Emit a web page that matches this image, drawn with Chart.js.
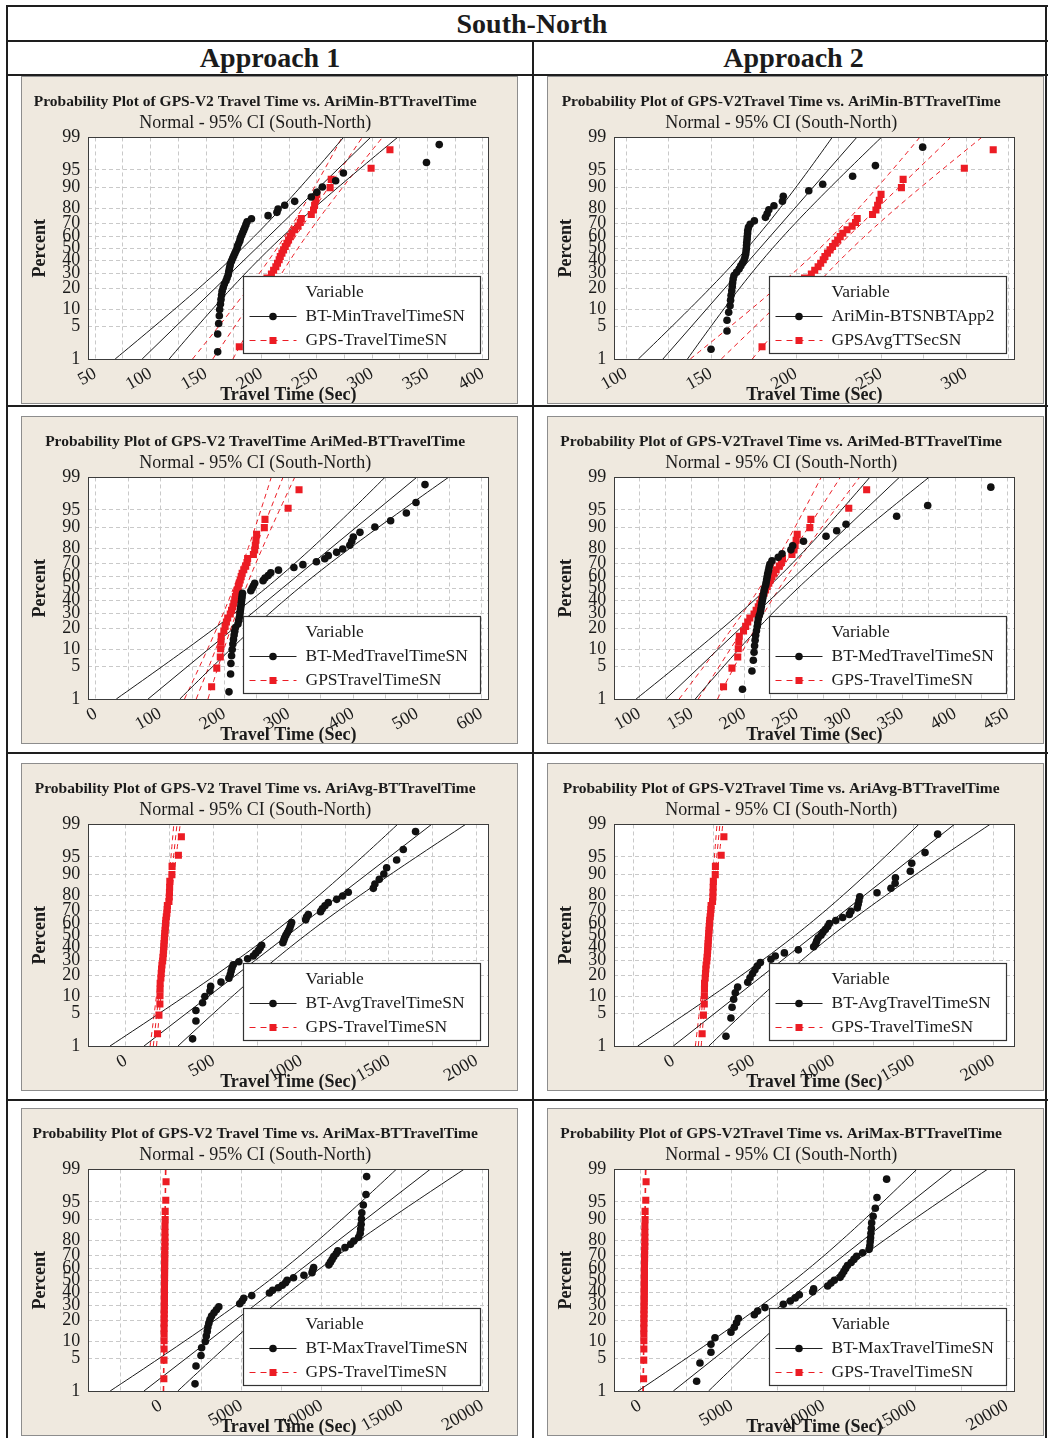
<!DOCTYPE html>
<html>
<head>
<meta charset="utf-8">
<script src="https://cdn.jsdelivr.net/npm/chart.js@4.4.0/dist/chart.umd.min.js"></script>
<style>
html, body { margin: 0; padding: 0; background: #fff; }
#page { position: relative; width: 1048px; height: 1438px; overflow: hidden;
        font-family: "Liberation Serif", "Times New Roman", serif; color: #1b1b1b; }
.ln { position: absolute; background: #1e1e1e; }
.hd { position: absolute; font-weight: bold; font-size: 28px; text-align: center; }
.panel { position: absolute; width: 495px; height: 326px; border: 1px solid #8d8d8d; background: #efe9df; }
.panel canvas { display: block; }
</style>
</head>
<body>
<div id="page">
  <div class="ln" style="left:6px;top:5px;width:1042px;height:2px"></div>
  <div class="ln" style="left:6px;top:5px;width:2px;height:1433px"></div>
  <div class="ln" style="left:1045px;top:5px;width:2px;height:1433px"></div>
  <div class="ln" style="left:6px;top:40px;width:1042px;height:2px"></div>
  <div class="ln" style="left:6px;top:74px;width:1042px;height:2px"></div>
  <div class="ln" style="left:532px;top:41px;width:2px;height:1397px"></div>
  <div class="ln" style="left:6px;top:405px;width:1042px;height:2px"></div>
  <div class="ln" style="left:6px;top:752px;width:1042px;height:2px"></div>
  <div class="ln" style="left:6px;top:1099px;width:1042px;height:2px"></div>

  <div class="hd" style="left:16px;top:7px;width:1032px;line-height:33px">South-North</div>
  <div class="hd" style="left:8px;top:42px;width:524px;line-height:32px">Approach 1</div>
  <div class="hd" style="left:538px;top:42px;width:511px;line-height:32px">Approach 2</div>

  <div class="panel" style="left:21px;top:76px"><canvas id="c0" width="495" height="326"></canvas></div>
  <div class="panel" style="left:547px;top:76px"><canvas id="c1" width="495" height="326"></canvas></div>
  <div class="panel" style="left:21px;top:416px"><canvas id="c2" width="495" height="326"></canvas></div>
  <div class="panel" style="left:547px;top:416px"><canvas id="c3" width="495" height="326"></canvas></div>
  <div class="panel" style="left:21px;top:763px"><canvas id="c4" width="495" height="326"></canvas></div>
  <div class="panel" style="left:547px;top:763px"><canvas id="c5" width="495" height="326"></canvas></div>
  <div class="panel" style="left:21px;top:1108px"><canvas id="c6" width="495" height="326"></canvas></div>
  <div class="panel" style="left:547px;top:1108px"><canvas id="c7" width="495" height="326"></canvas></div>
</div>

<script>
// ---- data ----
const yTickPercents = [1, 5, 10, 20, 30, 40, 50, 60, 70, 80, 90, 95, 99];

// GPS travel time (same 36 runs in every panel)
const gpsTravelTime = [180, 188, 193.5, 194, 194.5, 195, 199, 201, 203, 205, 209, 211, 213, 214.5, 216, 217,
  218.5, 220, 221.5, 223, 224.5, 226, 227.5, 230, 233, 235, 236, 245, 247, 248, 249, 250, 262, 263, 299, 316];

const btMinApp1 = [160.5, 160.5, 161.4, 162, 162.3, 163, 163.5, 164, 164.5, 165.5, 166.5, 168, 169, 170, 170.5,
  171, 171.5, 172, 173, 174, 175, 176, 177, 178, 178.5, 179.5, 180.5, 181, 182, 183, 184, 185, 186, 187, 191,
  206, 214, 215, 221, 230, 245, 250, 255, 267, 274, 349, 360.5];
const btMinApp2 = [150, 159.4, 159.4, 160.4, 161.2, 161.5, 161.8, 162.2, 162.5, 162.7, 163, 163.5, 165, 166.5,
  167.5, 168.6, 169.5, 170, 170.4, 170.6, 170.8, 170.9, 171, 171.2, 171.3, 171.5, 171.6, 172, 173, 175.5, 182,
  183, 184, 187, 192, 192.5, 207.5, 215.7, 233.3, 246.7, 274.5];
const btMedApp1 = [207, 209.5, 210, 211, 212, 213, 214, 215, 216, 217, 221, 222, 223, 224, 224.5, 225, 225.5,
  226, 226.5, 227, 227.5, 228, 241, 243, 245, 247, 260, 263, 268, 272, 284, 308, 322, 343, 356, 361.5, 374.5,
  384, 395, 398, 400.4, 410.8, 434, 458.5, 483, 498, 512];
const btMedApp2 = [198, 207, 208.3, 209, 209.5, 210, 210.5, 211.3, 212, 212.5, 213, 214, 215, 215.5, 216, 216.5,
  217, 217.5, 218, 218.5, 219, 220, 220.5, 221, 221.5, 222, 222.7, 223.3, 224, 226, 232, 235.6, 244, 245.7, 256,
  277.4, 287.5, 296.4, 344.5, 374, 434];
const btAvgApp1 = [380, 399, 399, 437, 450, 479, 483, 542, 587, 595, 600, 605, 612, 644, 694, 726, 740, 755, 765,
  774, 895, 900, 905, 912, 920, 928, 935, 940, 945, 1025, 1030, 1040, 1110, 1120, 1135, 1154, 1202, 1236, 1268,
  1411, 1420, 1445, 1471, 1487, 1544, 1582, 1652];
const btAvgApp2 = [329, 360, 367, 377, 387, 402, 465, 479, 495, 510, 525, 544, 610, 637, 694, 781, 877, 890, 896,
  905, 923, 935, 950, 965, 975, 1015, 1058, 1100, 1110, 1150, 1155, 1160, 1165, 1273, 1360, 1386, 1388, 1481,
  1490, 1573, 1652];
const btMaxApp1 = [2120, 2180, 2490, 2530, 2760, 2820, 2880, 2920, 2980, 3050, 3150, 3300, 3450, 3600, 4900, 5050,
  5150, 5650, 6750, 6950, 7300, 7550, 7750, 7850, 8250, 8900, 9400, 9450, 9500, 10450, 10550, 10650, 10750, 10900,
  11000, 11450, 11800, 12000, 12300, 12400, 12430, 12460, 12480, 12500, 12593, 12760, 12800];
const btMaxApp2 = [3073, 3254, 3854, 3854, 4073, 4945, 5127, 5250, 5345, 6218, 6400, 6800, 7800, 8182, 8450, 8673,
  9400, 9454, 10220, 10400, 10580, 10900, 11000, 11100, 11200, 11300, 11500, 11650, 11800, 12127, 12480, 12520,
  12540, 12560, 12580, 12600, 12620, 12700, 12818, 12909, 13436];

const btSeries = [btMinApp1, btMinApp2, btMedApp1, btMedApp2, btAvgApp1, btAvgApp2, btMaxApp1, btMaxApp2];

const panelTitles = [
  'Probability Plot of GPS-V2 Travel Time vs. AriMin-BTTravelTime',
  'Probability Plot of GPS-V2Travel Time vs. AriMin-BTTravelTime',
  'Probability Plot of GPS-V2 TravelTime AriMed-BTTravelTime',
  'Probability Plot of GPS-V2Travel Time vs. AriMed-BTTravelTime',
  'Probability Plot of GPS-V2 Travel Time vs. AriAvg-BTTravelTime',
  'Probability Plot of GPS-V2Travel Time vs. AriAvg-BTTravelTime',
  'Probability Plot of GPS-V2 Travel Time vs. AriMax-BTTravelTime',
  'Probability Plot of GPS-V2Travel Time vs. AriMax-BTTravelTime'
];
const subtitle = 'Normal - 95% CI (South-North)';
const btLabels = ['BT-MinTravelTimeSN', 'AriMin-BTSNBTApp2', 'BT-MedTravelTimeSN', 'BT-MedTravelTimeSN',
  'BT-AvgTravelTimeSN', 'BT-AvgTravelTimeSN', 'BT-MaxTravelTimeSN', 'BT-MaxTravelTimeSN'];
const gpsLabels = ['GPS-TravelTimeSN', 'GPSAvgTTSecSN', 'GPSTravelTimeSN', 'GPS-TravelTimeSN',
  'GPS-TravelTimeSN', 'GPS-TravelTimeSN', 'GPS-TravelTimeSN', 'GPS-TravelTimeSN'];

// fitted normal lines (mean, sd)
const btFitMean = [195.4, 178.7, 290, 236, 923, 878, 7843, 9400];
const btFitSd = [44.3, 24.5, 89.8, 47.7, 352.5, 377.5, 3826, 3267];
const gpsFitMean = 223.5;
const gpsFitSd = 29;

const xTickLabels = [
  [50, 100, 150, 200, 250, 300, 350, 400],
  [100, 150, 200, 250, 300],
  [0, 100, 200, 300, 400, 500, 600],
  [100, 150, 200, 250, 300, 350, 400, 450],
  [0, 500, 1000, 1500, 2000],
  [0, 500, 1000, 1500, 2000],
  [0, 5000, 10000, 15000, 20000],
  [0, 5000, 10000, 15000, 20000]
];
const xMin = [43.7, 93.1, -11.9, 76.2, -215, -369, -4523, -1418];
const xMax = [404.8, 328.4, 610.5, 456.3, 2067, 2131, 20373, 20400];

// ---- helpers ----
const FONT = '"Liberation Serif", "Times New Roman", serif';
const RED = '#ec1c24';
const INK = '#1b1b1b';

function probit(p) {
  const a = [-3.969683028665376e+01, 2.209460984245205e+02, -2.759285104469687e+02, 1.383577518672690e+02, -3.066479806614716e+01, 2.506628277459239e+00];
  const b = [-5.447609879822406e+01, 1.615858368580409e+02, -1.556989798598866e+02, 6.680131188771972e+01, -1.328068155288572e+01];
  const c = [-7.784894002430293e-03, -3.223964580411365e-01, -2.400758277161838e+00, -2.549732539343734e+00, 4.374664141464968e+00, 2.938163982698783e+00];
  const d = [7.784695709041462e-03, 3.224671290700398e-01, 2.445134137142996e+00, 3.754408661907416e+00];
  const pl = 0.02425;
  let q, r;
  if (p < pl) {
    q = Math.sqrt(-2 * Math.log(p));
    return (((((c[0]*q+c[1])*q+c[2])*q+c[3])*q+c[4])*q+c[5]) / ((((d[0]*q+d[1])*q+d[2])*q+d[3])*q+1);
  }
  if (p <= 1 - pl) {
    q = p - 0.5; r = q * q;
    return (((((a[0]*r+a[1])*r+a[2])*r+a[3])*r+a[4])*r+a[5])*q / (((((b[0]*r+b[1])*r+b[2])*r+b[3])*r+b[4])*r+1);
  }
  q = Math.sqrt(-2 * Math.log(1 - p));
  return -(((((c[0]*q+c[1])*q+c[2])*q+c[3])*q+c[4])*q+c[5]) / ((((d[0]*q+d[1])*q+d[2])*q+d[3])*q+1);
}
const Z99 = probit(0.99);

// median-rank plotting positions, like Minitab
function probPoints(values) {
  const s = values.slice().sort((a, b) => a - b);
  const n = s.length;
  return s.map((v, i) => ({ x: v, y: probit((i + 0.7) / (n + 0.4)) }));
}
function fitLine(mean, sd) {
  return [{ x: mean - Z99 * sd, y: -Z99 }, { x: mean + Z99 * sd, y: Z99 }];
}
function ciCurve(mean, sd, n, sign) {
  const pts = [];
  for (let k = 0; k <= 60; k++) {
    const z = -Z99 + 2 * Z99 * k / 60;
    const se = sd * Math.sqrt(1 / n + z * z / (2 * n));
    pts.push({ x: mean + z * sd + sign * 1.96 * se, y: z });
  }
  return pts;
}
function gridValues(labels, min, max) {
  const half = (labels[1] - labels[0]) / 2;
  const out = [];
  let v = labels[0];
  while (v - half >= min) v -= half;
  for (; v <= max; v += half) out.push(v);
  return out;
}

const panelDeco = {
  id: 'panelDeco',
  beforeDraw(chart) {
    const { ctx, chartArea: a } = chart;
    ctx.save();
    ctx.fillStyle = '#fff';
    ctx.fillRect(a.left, a.top, a.width, a.height);
    ctx.restore();
  },
  afterDatasetsDraw(chart) {
    const { ctx, chartArea: a } = chart;
    ctx.save();
    ctx.strokeStyle = '#3c3c3c';
    ctx.lineWidth = 1;
    ctx.strokeRect(Math.round(a.left) + 0.5, Math.round(a.top) + 0.5, Math.round(a.width), Math.round(a.height));
    ctx.restore();
  },
  afterDraw(chart, args, opts) {
    const { ctx, chartArea: a } = chart;
    const w = 237, h = 77;
    const x0 = Math.round(a.right - 8 - w) + 0.5;
    const y0 = Math.round(a.bottom - 6 - h) + 0.5;
    ctx.save();
    ctx.fillStyle = '#fff';
    ctx.fillRect(x0, y0, w, h);
    ctx.strokeStyle = '#333';
    ctx.lineWidth = 1.2;
    ctx.strokeRect(x0, y0, w, h);

    ctx.font = '17.5px ' + FONT;
    ctx.fillStyle = INK;
    ctx.textAlign = 'left';
    ctx.textBaseline = 'middle';
    ctx.fillText('Variable', x0 + 62, y0 + 16);

    // black entry
    let yy = Math.round(y0 + 39) + 0.5;
    ctx.strokeStyle = '#222';
    ctx.lineWidth = 1;
    ctx.beginPath(); ctx.moveTo(x0 + 6, yy); ctx.lineTo(x0 + 53, yy); ctx.stroke();
    ctx.fillStyle = '#111';
    ctx.beginPath(); ctx.arc(x0 + 29.5, yy, 3.8, 0, Math.PI * 2); ctx.fill();
    ctx.fillStyle = INK;
    ctx.fillText(opts.bt, x0 + 62, yy);

    // red entry
    yy = Math.round(y0 + 63) + 0.5;
    ctx.strokeStyle = RED;
    ctx.setLineDash([6, 5]);
    ctx.beginPath(); ctx.moveTo(x0 + 6, yy); ctx.lineTo(x0 + 53, yy); ctx.stroke();
    ctx.setLineDash([]);
    ctx.fillStyle = RED;
    ctx.fillRect(x0 + 26, yy - 3.5, 7, 7);
    ctx.fillStyle = INK;
    ctx.fillText(opts.gps, x0 + 62, yy);
    ctx.restore();
  }
};

Chart.defaults.font.family = FONT;
Chart.defaults.color = INK;

function makePanel(k) {
  const bt = btSeries[k];
  const nBt = bt.length, nGps = gpsTravelTime.length;
  const labels = xTickLabels[k];
  const grid = gridValues(labels, xMin[k], xMax[k]);
  const m1 = btFitMean[k], s1 = btFitSd[k];
  const line = (data, color, dash) => ({
    data, showLine: true, pointRadius: 0, borderColor: color, borderWidth: 1,
    borderDash: dash, fill: false, tension: 0, clip: 0
  });

  new Chart(document.getElementById('c' + k), {
    type: 'scatter',
    data: {
      datasets: [
        { label: btLabels[k], data: probPoints(bt), pointStyle: 'circle', pointRadius: 3.8,
          backgroundColor: '#111', borderWidth: 0, clip: 0 },
        { label: gpsLabels[k], data: probPoints(gpsTravelTime), pointStyle: 'rect', pointRadius: 5,
          backgroundColor: RED, borderWidth: 0, clip: 0 },
        line(fitLine(m1, s1), '#1a1a1a', []),
        line(ciCurve(m1, s1, nBt, -1), '#1a1a1a', []),
        line(ciCurve(m1, s1, nBt, 1), '#1a1a1a', []),
        line(fitLine(gpsFitMean, gpsFitSd), RED, [5, 4]),
        line(ciCurve(gpsFitMean, gpsFitSd, nGps, -1), RED, [5, 4]),
        line(ciCurve(gpsFitMean, gpsFitSd, nGps, 1), RED, [5, 4])
      ]
    },
    options: {
      responsive: false,
      animation: false,
      events: [],
      layout: { padding: { left: 0, right: 28.7, top: 0, bottom: 0 } },
      plugins: {
        legend: { display: false },
        tooltip: { enabled: false },
        title: { display: true, text: panelTitles[k], color: INK,
          font: { size: 15.5, weight: 'bold', lineHeight: 1.1 }, padding: { top: 16, bottom: 0 } },
        subtitle: { display: true, text: subtitle, color: INK,
          font: { size: 18, lineHeight: 1.2 }, padding: { top: 2, bottom: 3.8 } },
        panelDeco: { bt: btLabels[k], gps: gpsLabels[k] }
      },
      scales: {
        x: {
          type: 'linear', min: xMin[k], max: xMax[k],
          afterBuildTicks: s => { s.ticks = grid.map(v => ({ value: v })); },
          afterFit: s => { s.height = 44; },
          ticks: {
            autoSkip: false, minRotation: 30, maxRotation: 30, padding: 4,
            font: { size: 18 }, color: INK,
            callback: v => labels.includes(v) ? String(v) : ''
          },
          grid: { color: '#c9c9c9', drawTicks: false },
          border: { display: false, dash: [4, 3] },
          title: { display: true, text: 'Travel Time (Sec)', color: INK,
            font: { size: 18, weight: 'bold', lineHeight: 0.9 }, padding: { top: 0, bottom: 0 } }
        },
        y: {
          type: 'linear', min: -Z99, max: Z99,
          afterBuildTicks: s => { s.ticks = yTickPercents.map(p => ({ value: probit(p / 100) })); },
          afterFit: s => { s.width = 66.3; },
          ticks: {
            autoSkip: false, padding: 8, font: { size: 18 }, color: INK,
            callback: (v, i) => String(yTickPercents[i])
          },
          grid: { color: '#c9c9c9', drawTicks: false },
          border: { display: false, dash: [4, 3] },
          title: { display: true, text: 'Percent', color: INK,
            font: { size: 18, weight: 'bold', lineHeight: 1.2 }, padding: { top: 7.5, bottom: 0 } }
        }
      }
    },
    plugins: [panelDeco]
  });
}

for (let k = 0; k < 8; k++) makePanel(k);
</script>
</body>
</html>
